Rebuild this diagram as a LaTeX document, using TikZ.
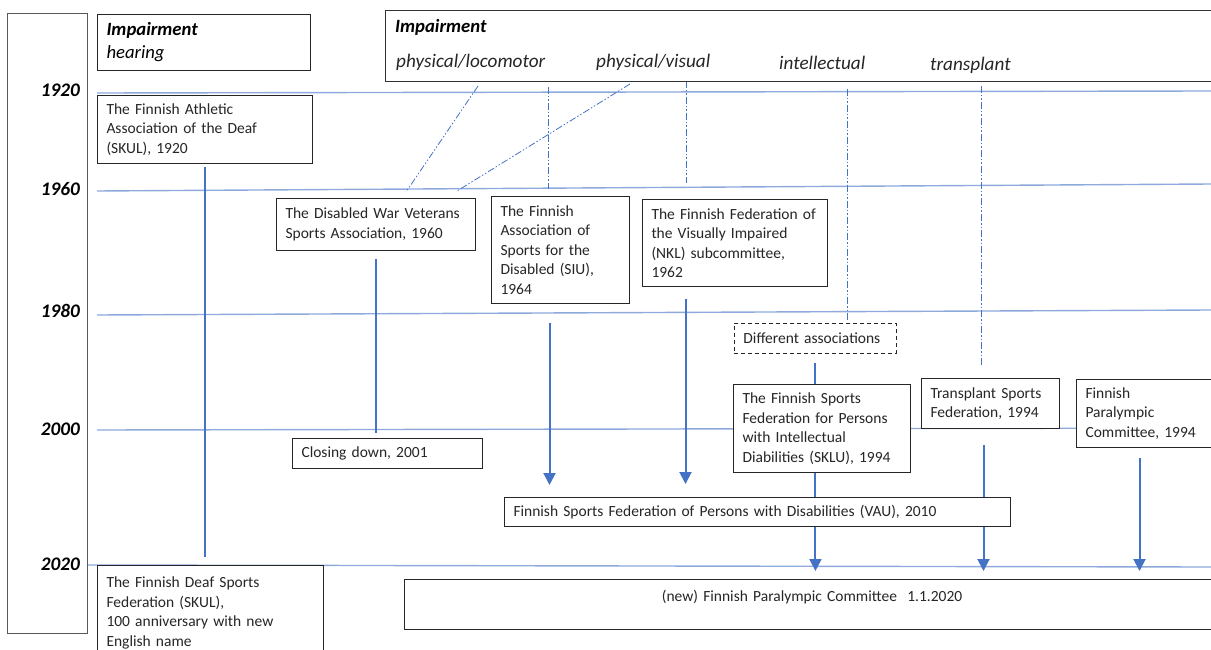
\documentclass[tikz,border=0pt]{standalone}
\usepackage{fontspec}
\setmainfont{Carlito}
\usetikzlibrary{arrows.meta, backgrounds}
\definecolor{lineblue}{HTML}{4472C4}
\definecolor{paleblue}{HTML}{8EA9DB}
\tikzstyle{box} = [rectangle, draw=black!85, line width=1pt, fill=white, anchor=north west, align=left, inner xsep=9pt, inner ysep=0pt, text=black!85, font=\fontsize{15.5}{19.5}\selectfont]
\tikzstyle{frame} = [rectangle, draw=black!80, line width=1.2pt, anchor=north west, inner sep=0pt]
\tikzstyle{year} = [anchor=east, inner sep=0pt, font=\fontsize{19.2}{22}\selectfont\bfseries\itshape]
\tikzstyle{kind} = [anchor=west, inner sep=0pt, text=black!85, font=\fontsize{19.2}{22}\selectfont\itshape]
\tikzstyle{period} = [paleblue, line width=1.4pt]
\tikzstyle{link} = [lineblue, line width=2pt]
\tikzstyle{arrow} = [link, -{Triangle[width=12pt,length=12pt]}]
\tikzstyle{branch} = [lineblue, line width=0.8pt, dash pattern=on 7pt off 2pt on 1.5pt off 2pt on 1.5pt off 2pt]

\begin{document}
\begin{tikzpicture}[x=1pt, y=-1pt]
	\useasboundingbox (0,0) rectangle (1211,650);
	\clip (0,0) rectangle (1211,650);
	% years
	\node (yearcol) [frame, draw=black!65, line width=1.4pt, minimum width=80pt, minimum height=620pt] at (7,13) {};
	\node (y1920) [year] at (80,90) {1920};
	\node (y1960) [year] at (80,189) {1960};
	\node (y1980) [year] at (80,311) {1980};
	\node (y2000) [year] at (80,429) {2000};
	\node (y2020) [year] at (80,564) {2020};
	% impairment headers
	\node (hear) [box, font=\fontsize{18.7}{23}\selectfont\itshape, text=black, minimum width=213pt, minimum height=56pt, text width=195pt] at (97,14) {\textbf{Impairment}\\hearing};
	\node (impbox) [frame, minimum width=830pt, minimum height=71pt] at (385,10) {};
	\node (imptitle) [kind, text=black, font=\fontsize{18.7}{22}\selectfont\bfseries\itshape] at (395,27) {Impairment};
	\node (phloc) [kind] at (396,62) {physical/locomotor};
	\node (phvis) [kind] at (596,62) {physical/visual};
	\node (intel) [kind] at (779,63) {intellectual};
	\node (transp) [kind] at (930,65) {transplant};
	% organisations
	\node (skul) [box, minimum width=215pt, minimum height=68pt, text width=197pt] at (97,95) {The Finnish Athletic\\Association of the Deaf\\(SKUL), 1920};
	\node (dwv) [box, minimum width=199pt, minimum height=52pt, text width=181pt] at (276,198) {\mbox{The Disabled War Veterans}\\Sports Association, 1960};
	\node (siu) [box, minimum width=138pt, minimum height=107pt, text width=120pt] at (491,196) {The Finnish\\Association of\\Sports for the\\Disabled (SIU),\\1964};
	\node (nkl) [box, minimum width=185pt, minimum height=87pt, text width=167pt] at (642,199) {\mbox{The Finnish Federation of}\\the Visually Impaired\\(NKL) subcommittee,\\1962};
	\node (diff) [box, dash pattern=on 4pt off 3pt, line width=0.9pt, minimum width=162pt, minimum height=30pt, text width=144pt] at (734,323) {Different associations};
	\node (sklu) [box, minimum width=177pt, minimum height=88pt, text width=159pt] at (733,384) {The Finnish Sports\\Federation for Persons\\with Intellectual\\\mbox{Diabilities (SKLU), 1994}};
	\node (tsf) [box, minimum width=138pt, minimum height=50pt, text width=120pt] at (921,378) {Transplant Sports\\Federation, 1994};
	\node (fpc) [box, minimum width=145pt, minimum height=68pt, text width=127pt] at (1076,379) {Finnish\\Paralympic\\Committee, 1994};
	\node (closing) [box, minimum width=190pt, minimum height=30pt, text width=172pt] at (292,438) {Closing down, 2001};
	\node (vau) [box, minimum width=506pt, minimum height=29pt, text width=488pt] at (504,497) {Finnish Sports Federation of Persons with Disabilities (VAU), 2010};
	\node (deaf) [box, minimum width=226pt, minimum height=95pt, text width=208pt] at (97,565) {The Finnish Deaf Sports\\Federation (SKUL),\\100 anniversary with new\\English name};
	\node (newfpc) [box, align=center, line width=1.2pt, minimum width=815pt, minimum height=50pt, text width=797pt] at (404,579) {(new) Finnish Paralympic Committee~~1.1.2020\\[-8pt] \strut};
	% free ends of the impairment branches
	\coordinate (locoTop) at (478,86);
	\coordinate (locoBot) at (406,192);
	\coordinate (visTop) at (630,84);
	\coordinate (visBot) at (457,191);
	\coordinate (siuTop) at (548,87);
	\coordinate (siuBot) at (548,189);
	\coordinate (nklTop) at (686,81);
	\coordinate (nklBot) at (686,183);
	\coordinate (intelTop) at (847,89);
	\coordinate (transpTop) at (981,86);

	\begin{scope}[on background layer]
	% time lines
	\draw [period] (97,93) -- (1211,91);
	\draw [period] (97,191) -- (1211,184);
	\draw [period] (97,315) -- (1211,310);
	\draw [period] (97,430) -- (1211,428);
	\draw [period] (87,565) -- (1211,567);
	% branches
	\draw [branch] (locoTop) -- (locoBot);
	\draw [branch] (visTop) -- (visBot);
	\draw [branch] (siuTop) -- (siuBot);
	\draw [branch] (nklTop) -- (nklBot);
	\draw [branch, shorten >=3pt] (intelTop) -- (intelTop |- diff.north);
	\draw [branch, shorten >=11pt] (transpTop) -- (transpTop |- tsf.north);
	% links
	\draw [link, shorten <=3pt, shorten >=8pt] (skul.south) -- (skul.south |- deaf.north);
	\draw [link, shorten <=8pt, shorten >=5pt] (dwv.south) -- (dwv.south |- closing.north);
	\draw [arrow, shorten <=19pt, shorten >=12pt] ([xshift=-11pt]siu.south) -- ([xshift=-11pt]siu.south |- vau.north);
	\draw [arrow, shorten <=12pt, shorten >=13pt] ([xshift=-49.5pt]nkl.south) -- ([xshift=-49.5pt]nkl.south |- vau.north);
	\draw [link, shorten <=9pt] (diff.south) -- (diff.south |- sklu.north);
	\draw [arrow, shorten >=8pt] (diff.south |- sklu.south) -- (diff.south |- newfpc.north);
	\draw [arrow, shorten <=16pt, shorten >=8pt] ([xshift=-7pt]tsf.south) -- ([xshift=-7pt]tsf.south |- newfpc.north);
	\draw [arrow, shorten <=10pt, shorten >=8pt] ([xshift=-9.5pt]fpc.south) -- ([xshift=-9.5pt]fpc.south |- newfpc.north);
	\end{scope}
\end{tikzpicture}
\end{document}
